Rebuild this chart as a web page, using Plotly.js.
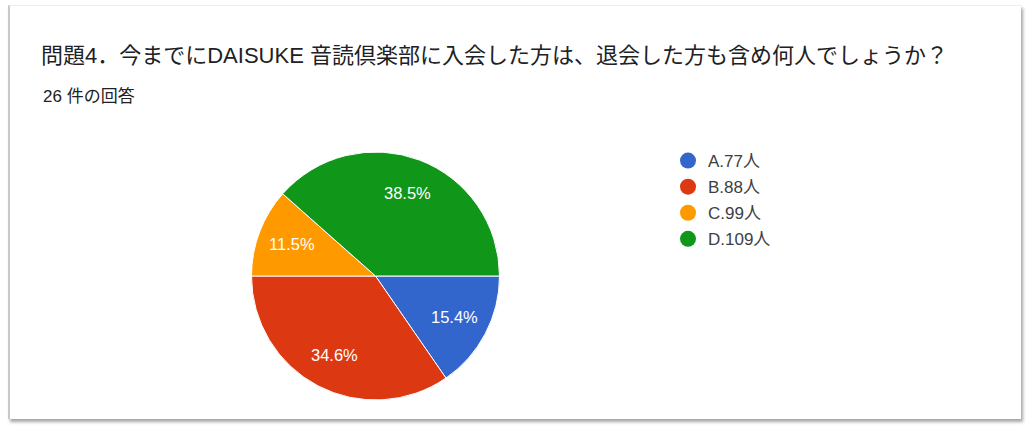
<!DOCTYPE html>
<html>
<head>
<meta charset="utf-8">
<script src="https://cdn.plot.ly/plotly-3.0.1.min.js"></script>
<style>
  html, body { margin: 0; padding: 0; background: #ffffff; }
  #card {
    position: absolute; left: 8px; top: 5px; width: 1011px; height: 413px;
    background: #ffffff; border-left: 2px solid #c8c8c8; border-top: 1px solid #eeeeee;
    box-shadow: 2px 3px 3px rgba(0,0,0,0.35);
  }
  #chart { position: absolute; left: 0; top: 0; width: 1029px; height: 432px; }
</style>
</head>
<body>
<div id="card"></div>
<div id="chart"></div>
<script>
const titleText = "問題4．今までにDAISUKE 音読倶楽部に入会した方は、退会した方も含め何人でしょうか？";
const subtitleText = "26 件の回答";
const categories = ["A.77人", "B.88人", "C.99人", "D.109人"];
const counts = [4, 9, 3, 10];
const colors = ["#3366cc", "#dc3912", "#ff9900", "#109618"];

const FONT = "'Liberation Sans', Arial, 'Noto Sans CJK JP', sans-serif";
const W = 1029, H = 432;

// pie placement (pixels)
const PIE_L = 251.5, PIE_R = 499.5, PIE_T = 152, PIE_B = 400;
const ROT = 90; // start at 3 o'clock, clockwise
const LABEL_R = 0.72;

const pie = {
  type: "pie",
  labels: categories,
  values: counts,
  sort: false,
  direction: "clockwise",
  rotation: ROT,
  marker: { colors: colors, line: { color: "#ffffff", width: 1 } },
  textinfo: "none",
  hoverinfo: "label+percent",
  showlegend: false,
  domain: { x: [PIE_L / W, PIE_R / W], y: [1 - PIE_B / H, 1 - PIE_T / H] }
};

const legendTraces = categories.map((c, i) => ({
  type: "scatter",
  mode: "markers",
  x: [null], y: [null],
  name: c,
  legendgroup: "g" + i,
  marker: { color: colors[i], size: 17, symbol: "circle" },
  showlegend: true,
  hoverinfo: "skip"
}));

// percentage labels placed along each slice's mid angle (derived from the data)
const total = counts.reduce((a, b) => a + b, 0);
const cx = (PIE_L + PIE_R) / 2, cy = (PIE_T + PIE_B) / 2, r = (PIE_R - PIE_L) / 2;
let cum = 0;
const pctAnnotations = counts.map((v) => {
  const mid = (cum + v / 2) / total;
  cum += v;
  const ang = (ROT - 90) * Math.PI / 180 + mid * 2 * Math.PI; // clockwise from east (screen coords)
  const px = cx + LABEL_R * r * Math.cos(ang);
  const py = cy + LABEL_R * r * Math.sin(ang);
  return {
    text: (100 * v / total).toFixed(1) + "%",
    xref: "paper", yref: "paper",
    x: px / W, y: 1 - py / H,
    xanchor: "center", yanchor: "middle",
    showarrow: false,
    font: { family: FONT, size: 16.5, color: "#ffffff" }
  };
});

const layout = {
  width: W, height: H,
  margin: { l: 0, r: 0, t: 0, b: 0 },
  paper_bgcolor: "rgba(0,0,0,0)",
  plot_bgcolor: "rgba(0,0,0,0)",
  font: { family: FONT, color: "#202124" },
  title: {
    text: titleText,
    xref: "paper", yref: "paper",
    x: 41 / W, xanchor: "left",
    y: 1 - 55 / H, yanchor: "middle",
    font: { family: FONT, size: 22, color: "#202124" }
  },
  annotations: [{
    text: subtitleText, xref: "paper", yref: "paper",
    x: 41 / W, xanchor: "left", y: 1 - 96 / H, yanchor: "middle",
    showarrow: false, font: { family: FONT, size: 17, color: "#202124" }
  }].concat(pctAnnotations),
  xaxis: { visible: false, range: [0, 1] },
  yaxis: { visible: false, range: [0, 1] },
  showlegend: true,
  legend: {
    x: 668 / W, xanchor: "left", y: 1 - 143 / H, yanchor: "top",
    font: { family: FONT, size: 17, color: "#3c4043" },
    tracegroupgap: 1,
    bgcolor: "rgba(0,0,0,0)"
  }
};

Plotly.newPlot("chart", [pie].concat(legendTraces), layout, { displayModeBar: false, staticPlot: true });
</script>
</body>
</html>
